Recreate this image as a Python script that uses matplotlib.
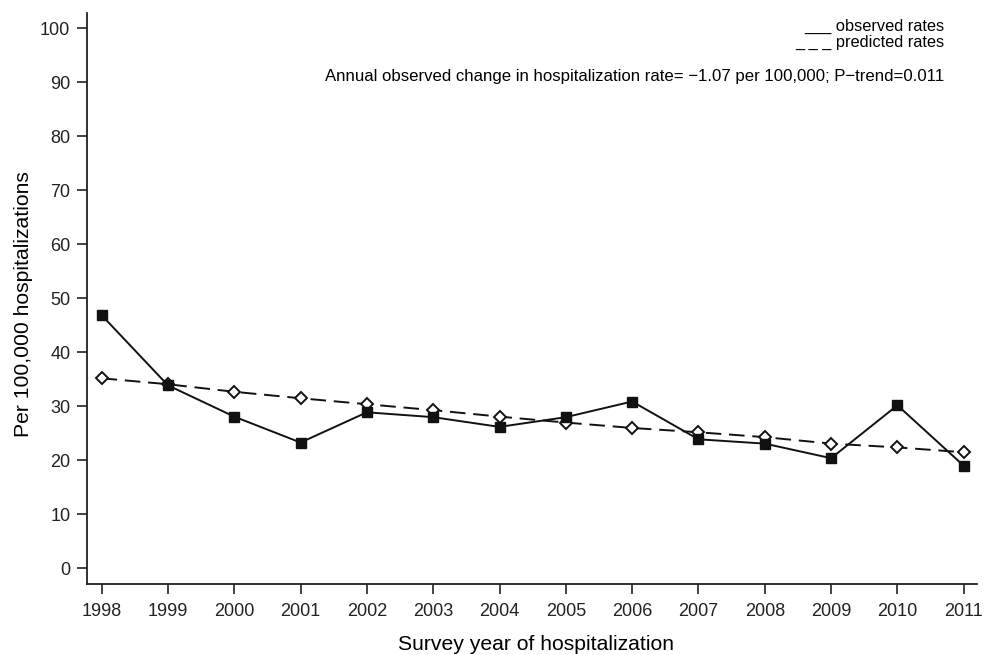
import matplotlib
matplotlib.use("Agg")
import matplotlib.pyplot as plt

plt.rcParams['font.family'] = ['Liberation Sans', 'DejaVu Sans']

years = [1998, 1999, 2000, 2001, 2002, 2003, 2004, 2005, 2006, 2007, 2008, 2009, 2010, 2011]
observed = [46.9, 33.9, 28.1, 23.3, 28.9, 28.0, 26.2, 28.0, 30.9, 23.9, 23.1, 20.4, 30.2, 19.0]
predicted = [35.2, 34.1, 32.7, 31.5, 30.4, 29.3, 28.1, 27.0, 26.0, 25.2, 24.3, 23.1, 22.4, 21.5]
yticks = [0, 10, 20, 30, 40, 50, 60, 70, 80, 90, 100]

fig = plt.figure(figsize=(9.95, 6.55), dpi=100)
ax = fig.add_axes([87/995, 71/655, (977-87)/995, (641.7-71)/655])

ax.plot(years, predicted, color='#111111', lw=1.4, ls=(0, (8, 4)),
        marker='D', markersize=6, markerfacecolor='white',
        markeredgecolor='#111111', markeredgewidth=1.4, zorder=3)
ax.plot(years, observed, color='#111111', lw=1.4, ls='-',
        marker='s', markersize=7, markerfacecolor='#111111',
        markeredgecolor='#111111', zorder=4)

ax.set_xlim(1997.78, 2011.2)
ax.set_ylim(-2.9, 102.8)
ax.set_xticks(years)
ax.set_xticklabels([str(y) for y in years])
ax.set_yticks(yticks)

for s in ['top', 'right']:
    ax.spines[s].set_visible(False)
for s in ['left', 'bottom']:
    ax.spines[s].set_linewidth(1.3)
    ax.spines[s].set_color('#222222')
ax.tick_params(axis='both', direction='out', length=7, width=1.2,
               colors='#222222', labelsize=13, pad=5)
ax.tick_params(axis='x', pad=7)

fig.text(536/995, 1 - 645/655, 'Survey year of hospitalization',
         ha='center', va='center', fontsize=15.2)
fig.text(24/995, 1 - 304/655, 'Per 100,000 hospitalizations',
         ha='center', va='center', rotation=90, fontsize=15.2)

fig.text(944/995, 1 - 26/655, '___ observed rates', ha='right', va='center', fontsize=11.8)
fig.text(944/995, 1 - 42/655, '_ _ _ predicted rates', ha='right', va='center', fontsize=11.8)
fig.text(944/995, 1 - 76/655,
         'Annual observed change in hospitalization rate= \u22121.07 per 100,000; P\u2212trend=0.011',
         ha='right', va='center', fontsize=12.1)

fig.savefig('out.png', dpi=100)
